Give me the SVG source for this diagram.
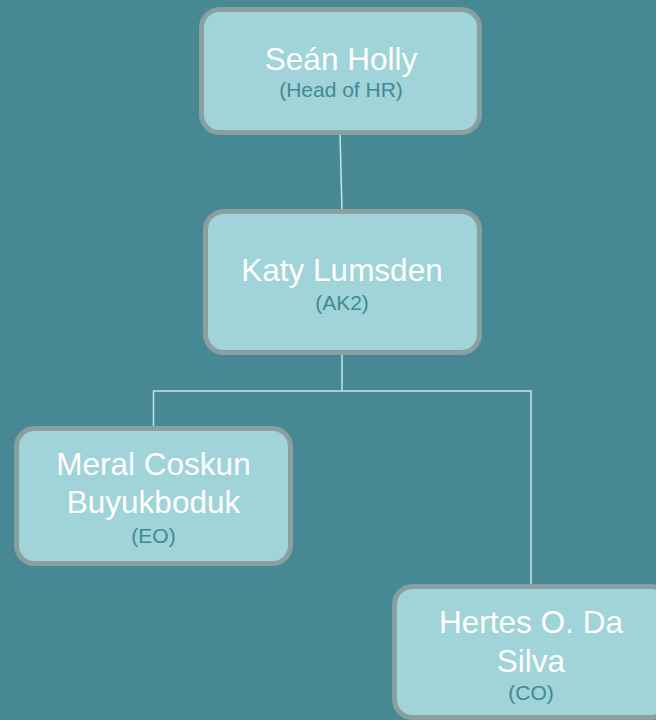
<svg xmlns="http://www.w3.org/2000/svg" width="656" height="720" viewBox="0 0 656 720">
<style>
.box{fill:#a0d4d9;stroke:#8a9fa0;stroke-width:5}
.name{font-family:"Liberation Sans",Arial,sans-serif;font-size:31.5px;fill:#ffffff;text-anchor:middle}
.sub{font-family:"Liberation Sans",Arial,sans-serif;font-size:21px;fill:#3f8a93;text-anchor:middle}
.conn{fill:none;stroke:#c3e5ea;stroke-width:1.5}
</style>
<rect width="656" height="720" fill="#468893"/>
<g id="connectors">
<line class="conn" x1="340" y1="133" x2="342" y2="211"/>
<polyline class="conn" points="342,353 342,391"/>
<polyline class="conn" points="153.5,428 153.5,391 531,391 531,586"/>
</g>
<g id="sean">
<rect class="box" x="201.5" y="9.5" width="278" height="123" rx="18"/>
<text class="name" x="341" y="70">Seán Holly</text>
<text class="sub" x="341" y="97">(Head of HR)</text>
</g>
<g id="katy">
<rect class="box" x="205.5" y="211.5" width="274" height="141" rx="18"/>
<text class="name" x="342" y="281">Katy Lumsden</text>
<text class="sub" x="342" y="310">(AK2)</text>
</g>
<g id="meral">
<rect class="box" x="16.5" y="428.5" width="274" height="135" rx="18"/>
<text class="name" x="153.5" y="475">Meral Coskun</text>
<text class="name" x="153.5" y="513">Buyukboduk</text>
<text class="sub" x="153.5" y="543">(EO)</text>
</g>
<g id="hertes">
<rect class="box" x="394.5" y="586.5" width="274" height="131" rx="18"/>
<text class="name" x="531" y="633">Hertes O. Da</text>
<text class="name" x="531" y="672">Silva</text>
<text class="sub" x="531" y="700">(CO)</text>
</g>
</svg>
